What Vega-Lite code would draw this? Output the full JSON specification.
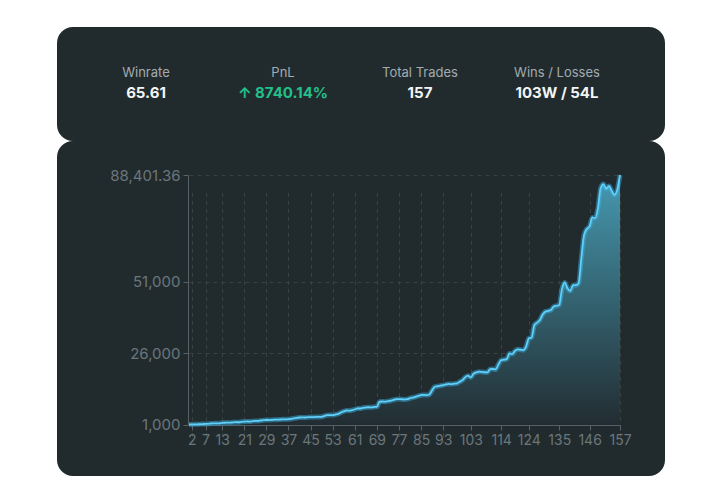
{
  "$schema": "https://vega.github.io/schema/vega-lite/v6.json",
  "background": "#ffffff",
  "padding": {"left": 57, "top": 27, "right": 55, "bottom": 26},
  "spacing": 0,
  "config": {"view": {"stroke": null}, "font": "Inter"},
  "datasets": {
    "stats": [
      {"stat": "Winrate", "value": "65.61"},
      {"stat": "PnL", "value": "↑ 8740.14%"},
      {"stat": "Total Trades", "value": "157"},
      {"stat": "Wins / Losses", "value": "103W / 54L"}
    ],
    "equity": [
      {"trade": 1, "balance": 1000}, {"trade": 2, "balance": 1030}, {"trade": 3, "balance": 1060}, {"trade": 4, "balance": 1050},
      {"trade": 5, "balance": 1110}, {"trade": 6, "balance": 1150}, {"trade": 7, "balance": 1200}, {"trade": 8, "balance": 1230},
      {"trade": 9, "balance": 1350}, {"trade": 10, "balance": 1380}, {"trade": 11, "balance": 1420}, {"trade": 12, "balance": 1400},
      {"trade": 13, "balance": 1600}, {"trade": 14, "balance": 1620}, {"trade": 15, "balance": 1660}, {"trade": 16, "balance": 1650},
      {"trade": 17, "balance": 1750}, {"trade": 18, "balance": 1800}, {"trade": 19, "balance": 1780}, {"trade": 20, "balance": 1950},
      {"trade": 21, "balance": 2000}, {"trade": 22, "balance": 2060}, {"trade": 23, "balance": 2040}, {"trade": 24, "balance": 2150},
      {"trade": 25, "balance": 2250}, {"trade": 26, "balance": 2230}, {"trade": 27, "balance": 2400}, {"trade": 28, "balance": 2510},
      {"trade": 29, "balance": 2580}, {"trade": 30, "balance": 2560}, {"trade": 31, "balance": 2620}, {"trade": 32, "balance": 2700},
      {"trade": 33, "balance": 2680}, {"trade": 34, "balance": 2750}, {"trade": 35, "balance": 2820}, {"trade": 36, "balance": 2800},
      {"trade": 37, "balance": 2860}, {"trade": 38, "balance": 3000}, {"trade": 39, "balance": 3150}, {"trade": 40, "balance": 3300},
      {"trade": 41, "balance": 3460}, {"trade": 42, "balance": 3480}, {"trade": 43, "balance": 3450}, {"trade": 44, "balance": 3550},
      {"trade": 45, "balance": 3600}, {"trade": 46, "balance": 3580}, {"trade": 47, "balance": 3650}, {"trade": 48, "balance": 3640},
      {"trade": 49, "balance": 3700}, {"trade": 50, "balance": 4000}, {"trade": 51, "balance": 4260}, {"trade": 52, "balance": 4300},
      {"trade": 53, "balance": 4280}, {"trade": 54, "balance": 4500}, {"trade": 55, "balance": 4700}, {"trade": 56, "balance": 5200},
      {"trade": 57, "balance": 5600}, {"trade": 58, "balance": 5900}, {"trade": 59, "balance": 5850}, {"trade": 60, "balance": 6020},
      {"trade": 61, "balance": 6300}, {"trade": 62, "balance": 6620}, {"trade": 63, "balance": 6600}, {"trade": 64, "balance": 6860},
      {"trade": 65, "balance": 6950}, {"trade": 66, "balance": 7050}, {"trade": 67, "balance": 7000}, {"trade": 68, "balance": 7150},
      {"trade": 69, "balance": 7210}, {"trade": 70, "balance": 8970}, {"trade": 71, "balance": 9050}, {"trade": 72, "balance": 9000},
      {"trade": 73, "balance": 9200}, {"trade": 74, "balance": 9320}, {"trade": 75, "balance": 9600}, {"trade": 76, "balance": 9880},
      {"trade": 77, "balance": 9900}, {"trade": 78, "balance": 9850}, {"trade": 79, "balance": 9800}, {"trade": 80, "balance": 9880},
      {"trade": 81, "balance": 10200}, {"trade": 82, "balance": 10450}, {"trade": 83, "balance": 10700}, {"trade": 84, "balance": 11000},
      {"trade": 85, "balance": 11280}, {"trade": 86, "balance": 11350}, {"trade": 87, "balance": 11300}, {"trade": 88, "balance": 11530},
      {"trade": 89, "balance": 13000}, {"trade": 90, "balance": 14230}, {"trade": 91, "balance": 14400}, {"trade": 92, "balance": 14580},
      {"trade": 93, "balance": 14800}, {"trade": 94, "balance": 15040}, {"trade": 95, "balance": 15200}, {"trade": 96, "balance": 15150},
      {"trade": 97, "balance": 15300}, {"trade": 98, "balance": 15390}, {"trade": 99, "balance": 16000}, {"trade": 100, "balance": 16550},
      {"trade": 101, "balance": 17600}, {"trade": 102, "balance": 18090}, {"trade": 103, "balance": 17500}, {"trade": 104, "balance": 18800},
      {"trade": 105, "balance": 19250}, {"trade": 106, "balance": 19500}, {"trade": 107, "balance": 19400}, {"trade": 108, "balance": 19300},
      {"trade": 109, "balance": 19250}, {"trade": 110, "balance": 20400}, {"trade": 111, "balance": 20450}, {"trade": 112, "balance": 20300},
      {"trade": 113, "balance": 22060}, {"trade": 114, "balance": 23570}, {"trade": 115, "balance": 23700}, {"trade": 116, "balance": 23920},
      {"trade": 117, "balance": 25900}, {"trade": 118, "balance": 25680}, {"trade": 119, "balance": 26800}, {"trade": 120, "balance": 27330},
      {"trade": 121, "balance": 27200}, {"trade": 122, "balance": 27080}, {"trade": 123, "balance": 28270}, {"trade": 124, "balance": 31190},
      {"trade": 125, "balance": 31430}, {"trade": 126, "balance": 35850}, {"trade": 127, "balance": 36700}, {"trade": 128, "balance": 37610},
      {"trade": 129, "balance": 39500}, {"trade": 130, "balance": 40560}, {"trade": 131, "balance": 40800}, {"trade": 132, "balance": 41120},
      {"trade": 133, "balance": 42310}, {"trade": 134, "balance": 42600}, {"trade": 135, "balance": 42870}, {"trade": 136, "balance": 48500},
      {"trade": 137, "balance": 50740}, {"trade": 138, "balance": 48740}, {"trade": 139, "balance": 47790}, {"trade": 140, "balance": 49790},
      {"trade": 141, "balance": 49800}, {"trade": 142, "balance": 50490}, {"trade": 143, "balance": 59270}, {"trade": 144, "balance": 67440},
      {"trade": 145, "balance": 69550}, {"trade": 146, "balance": 70500}, {"trade": 147, "balance": 73550}, {"trade": 148, "balance": 73300},
      {"trade": 149, "balance": 76820}, {"trade": 150, "balance": 83840}, {"trade": 151, "balance": 85240}, {"trade": 152, "balance": 83590},
      {"trade": 153, "balance": 84540}, {"trade": 154, "balance": 82890}, {"trade": 155, "balance": 81480}, {"trade": 156, "balance": 83240},
      {"trade": 157, "balance": 88401.36}
    ]
  },
  "vconcat": [
    {
      "width": 608,
      "height": 114,
      "view": {"fill": "#212b2e", "cornerRadius": 16, "stroke": null},
      "data": {"name": "stats"},
      "encoding": {
        "x": {"field": "stat", "type": "nominal", "sort": null,
              "scale": {"type": "point", "range": [89, 500], "padding": 0}, "axis": null}
      },
      "layer": [
        {"mark": {"type": "text", "dy": -11, "fontSize": 13, "font": "Inter", "color": "#a3abb0"},
         "encoding": {"text": {"field": "stat"}}},
        {"mark": {"type": "text", "dy": 9, "fontSize": 15, "fontWeight": "bold", "font": "Inter"},
         "encoding": {
           "text": {"field": "value"},
           "color": {"field": "stat", "type": "nominal",
                     "scale": {"domain": ["Winrate", "PnL", "Total Trades", "Wins / Losses"],
                               "range": ["#f2f4f5", "#22c08a", "#f2f4f5", "#f2f4f5"]},
                     "legend": null}
         }}
      ]
    },
    {
      "width": 608,
      "height": 335,
      "view": {"fill": "#212b2e", "cornerRadius": 16, "stroke": null},
      "data": {"name": "equity"},
      "encoding": {
        "x": {"field": "trade", "type": "quantitative",
              "scale": {"domain": [1, 157], "range": [132, 563], "nice": false, "zero": false},
              "axis": {"values": [2, 7, 13, 21, 29, 37, 45, 53, 61, 69, 77, 85, 93, 103, 114, 124, 135, 146, 157],
                       "offset": -51, "title": null, "labelFlush": false, "labelOverlap": false,
                       "labelColor": "#6b767b", "labelFontSize": 14, "labelFont": "Inter", "labelPadding": 3,
                       "tickColor": "#586266", "tickSize": 5, "domainColor": "#586266",
                       "grid": true, "gridColor": "#38423f", "gridDash": [4, 4]}},
        "y": {"field": "balance", "type": "quantitative",
              "scale": {"domain": [1000, 88401.36], "range": [283.5, 34], "nice": false, "zero": false},
              "axis": {"values": [1000, 26000, 51000, 88401.36], "format": ",.2~f",
                       "offset": -131, "title": null, "labelOverlap": false, "labelFlush": false,
                       "labelColor": "#6b767b", "labelFontSize": 15, "labelFont": "Inter", "labelPadding": 3,
                       "tickColor": "#586266", "tickSize": 5, "domainColor": "#586266",
                       "grid": true, "gridColor": "#38423f", "gridDash": [4, 4]}}
      },
      "layer": [
        {"mark": {"type": "area", "interpolate": "monotone",
                  "color": {"gradient": "linear", "x1": 0, "y1": 0, "x2": 0, "y2": 1,
                            "stops": [{"offset": 0, "color": "#4699b0"}, {"offset": 1, "color": "#222d32"}]}},
         "encoding": {"y2": {"datum": 1000}}},
        {"mark": {"type": "line", "interpolate": "monotone", "color": "#3bb4e6", "strokeWidth": 5, "opacity": 0.45}},
        {"mark": {"type": "line", "interpolate": "monotone", "color": "#5fd0fa", "strokeWidth": 1.8}}
      ]
    }
  ]
}
